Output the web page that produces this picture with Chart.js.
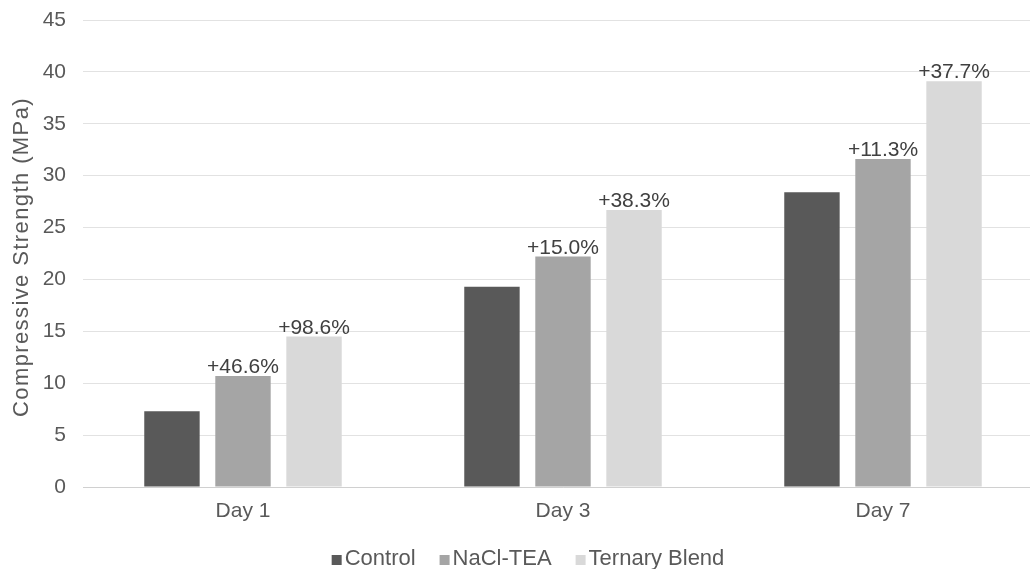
<!DOCTYPE html>
<html>
<head>
<meta charset="utf-8">
<script src="https://cdn.jsdelivr.net/npm/chart.js@4"></script>
<style>
  html, body { margin: 0; padding: 0; overflow: hidden; background: #ffffff; }
  canvas { display: block; }
</style>
</head>
<body>
<canvas id="chart" width="1056" height="569"></canvas>
<script>
// Compressive strength (MPa) by curing age
const days = ['Day 1', 'Day 3', 'Day 7'];
const control = [7.3, 19.3, 28.4];
const naclTea = [10.7, 22.2, 31.6];
const ternaryBlend = [14.5, 26.7, 39.1];
const seriesNames = ['Control', 'NaCl-TEA', 'Ternary Blend'];
const seriesColors = ['#595959', '#a5a5a5', '#d9d9d9'];
const yMin = 0, yMax = 45, yStep = 5;
const yTitle = 'Compressive Strength (MPa)';

const FONT = '"Liberation Sans", Arial, sans-serif';
Chart.defaults.font.family = FONT;
Chart.defaults.font.size = 21;
Chart.defaults.color = '#595959';

// Percentage gain of each admixture over the control, printed above its bar
const gainLabels = {
  id: 'gainLabels',
  afterDatasetsDraw(chart) {
    const { ctx } = chart;
    ctx.save();
    ctx.font = '21px ' + FONT;
    ctx.fillStyle = '#404040';
    ctx.textAlign = 'center';
    ctx.textBaseline = 'alphabetic';
    chart.data.datasets.forEach((ds, di) => {
      if (di === 0) return;
      const meta = chart.getDatasetMeta(di);
      meta.data.forEach((bar, i) => {
        const gain = (ds.data[i] / control[i] - 1) * 100;
        ctx.fillText('+' + gain.toFixed(1) + '%', bar.x, bar.y - 3);
      });
    });
    ctx.restore();
  }
};

// Rotated value-axis title
const axisTitle = {
  id: 'axisTitle',
  afterDraw(chart) {
    const { ctx } = chart;
    ctx.save();
    ctx.translate(22, 257);
    ctx.rotate(-Math.PI / 2);
    ctx.font = '22px ' + FONT;
    if ('letterSpacing' in ctx) ctx.letterSpacing = '1.4px';
    ctx.fillStyle = '#595959';
    ctx.textAlign = 'center';
    ctx.textBaseline = 'middle';
    ctx.fillText(yTitle, 0, 0);
    ctx.restore();
  }
};

// Legend row under the category axis
const bottomLegend = {
  id: 'bottomLegend',
  afterDraw(chart) {
    const { ctx } = chart;
    const box = 10, boxGap = 3, itemGap = 24;
    ctx.save();
    ctx.font = '22px ' + FONT;
    const items = chart.data.datasets.map(ds => ({
      text: ds.label, color: ds.backgroundColor, w: ctx.measureText(ds.label).width
    }));
    const total = items.reduce((s, it) => s + box + boxGap + it.w, 0) + itemGap * (items.length - 1);
    let x = chart.width / 2 - total / 2;
    const baseline = 565;
    ctx.textBaseline = 'alphabetic';
    ctx.textAlign = 'left';
    items.forEach(it => {
      ctx.fillStyle = it.color;
      ctx.fillRect(x, baseline - box, box, box);
      x += box + boxGap;
      ctx.fillStyle = '#595959';
      ctx.fillText(it.text, x, baseline);
      x += it.w + itemGap;
    });
    ctx.restore();
  }
};

const seriesData = [control, naclTea, ternaryBlend];

new Chart(document.getElementById('chart'), {
  type: 'bar',
  data: {
    labels: days,
    datasets: seriesData.map((d, i) => ({
      label: seriesNames[i],
      data: d,
      backgroundColor: seriesColors[i],
      borderWidth: 0,
      categoryPercentage: 0.666,
      barPercentage: 0.78
    }))
  },
  options: {
    responsive: false,
    animation: false,
    layout: { padding: { top: 20, right: 13, bottom: 40, left: 0 } },
    plugins: {
      legend: { display: false },
      tooltip: { enabled: false }
    },
    scales: {
      x: {
        grid: { display: false, drawTicks: false },
        border: { display: true, color: '#d0d0d0', width: 1 },
        ticks: { color: '#595959', padding: 12, font: { size: 21 } },
        afterFit(scale) { scale.height = 42; scale.paddingLeft = 0; scale.paddingRight = 0; }
      },
      y: {
        min: yMin,
        max: yMax,
        ticks: { stepSize: yStep, color: '#595959', padding: 17, font: { size: 21 } },
        grid: { color: '#e2e2e2', lineWidth: 1, drawTicks: false },
        border: { display: false },
        afterFit(scale) { scale.width = 83; scale.paddingTop = 0; scale.paddingBottom = 0; }
      }
    }
  },
  plugins: [gainLabels, axisTitle, bottomLegend]
});
</script>
</body>
</html>
